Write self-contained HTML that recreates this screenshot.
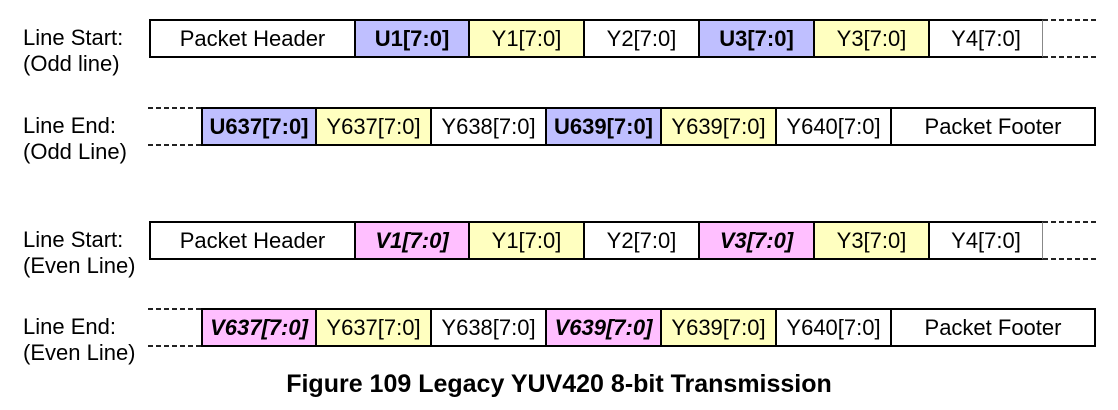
<!DOCTYPE html>
<html><head><style>
body{margin:0;width:1118px;height:410px;background:#fff;position:relative;overflow:hidden;font-family:"Liberation Sans",Arial,sans-serif;color:#000}
.l{position:absolute;left:23px;font-size:22px;line-height:26px}
.c{position:absolute;box-sizing:border-box;border:2px solid #000;border-right:none;font-size:22px;display:flex;align-items:center;justify-content:center;white-space:nowrap}
.last{border-right:2px solid #000}
.u{background:#bfbfff;font-weight:bold}
.v{background:#ffbfff;font-weight:bold;font-style:italic}
.y{background:#ffffc0}
.w{background:#fff}
.d{position:absolute;height:2px;background:repeating-linear-gradient(90deg,#222 0 5px,transparent 5px 8px)}
.cap{position:absolute;left:0;width:1118px;top:369px;text-align:center;font-weight:bold;font-size:25px;line-height:30px}
</style></head><body>
<div class="l" style="top:25px">Line Start:<br>(Odd line)</div>
<div class="l" style="top:113px">Line End:<br>(Odd Line)</div>
<div class="l" style="top:227px">Line Start:<br>(Even Line)</div>
<div class="l" style="top:314px">Line End:<br>(Even Line)</div>

<div class="c w" style="left:149px;top:19px;width:205px;height:39px">Packet Header</div>
<div class="c u" style="left:354px;top:19px;width:114px;height:39px">U1[7:0]</div>
<div class="c y" style="left:468px;top:19px;width:115px;height:39px">Y1[7:0]</div>
<div class="c w" style="left:583px;top:19px;width:115px;height:39px">Y2[7:0]</div>
<div class="c u" style="left:698px;top:19px;width:115px;height:39px">U3[7:0]</div>
<div class="c y" style="left:813px;top:19px;width:115px;height:39px">Y3[7:0]</div>
<div class="c w" style="left:928px;top:19px;width:115px;height:39px;border-right:1px solid #888">Y4[7:0]</div>
<div class="d" style="left:1043px;top:19px;width:53px"></div>
<div class="d" style="left:1043px;top:56px;width:53px"></div>

<div class="d" style="left:148px;top:107px;width:53px"></div>
<div class="d" style="left:148px;top:144px;width:53px"></div>
<div class="c u" style="left:201px;top:107px;width:114px;height:39px">U637[7:0]</div>
<div class="c y" style="left:315px;top:107px;width:115px;height:39px">Y637[7:0]</div>
<div class="c w" style="left:430px;top:107px;width:115px;height:39px">Y638[7:0]</div>
<div class="c u" style="left:545px;top:107px;width:115px;height:39px">U639[7:0]</div>
<div class="c y" style="left:660px;top:107px;width:115px;height:39px">Y639[7:0]</div>
<div class="c w" style="left:775px;top:107px;width:115px;height:39px">Y640[7:0]</div>
<div class="c w last" style="left:890px;top:107px;width:206px;height:39px">Packet Footer</div>

<div class="c w" style="left:149px;top:221px;width:205px;height:39px">Packet Header</div>
<div class="c v" style="left:354px;top:221px;width:114px;height:39px">V1[7:0]</div>
<div class="c y" style="left:468px;top:221px;width:115px;height:39px">Y1[7:0]</div>
<div class="c w" style="left:583px;top:221px;width:115px;height:39px">Y2[7:0]</div>
<div class="c v" style="left:698px;top:221px;width:115px;height:39px">V3[7:0]</div>
<div class="c y" style="left:813px;top:221px;width:115px;height:39px">Y3[7:0]</div>
<div class="c w" style="left:928px;top:221px;width:115px;height:39px;border-right:1px solid #888">Y4[7:0]</div>
<div class="d" style="left:1043px;top:221px;width:53px"></div>
<div class="d" style="left:1043px;top:258px;width:53px"></div>

<div class="d" style="left:148px;top:308px;width:53px"></div>
<div class="d" style="left:148px;top:345px;width:53px"></div>
<div class="c v" style="left:201px;top:308px;width:114px;height:39px">V637[7:0]</div>
<div class="c y" style="left:315px;top:308px;width:115px;height:39px">Y637[7:0]</div>
<div class="c w" style="left:430px;top:308px;width:115px;height:39px">Y638[7:0]</div>
<div class="c v" style="left:545px;top:308px;width:115px;height:39px">V639[7:0]</div>
<div class="c y" style="left:660px;top:308px;width:115px;height:39px">Y639[7:0]</div>
<div class="c w" style="left:775px;top:308px;width:115px;height:39px">Y640[7:0]</div>
<div class="c w last" style="left:890px;top:308px;width:206px;height:39px">Packet Footer</div>

<div class="cap">Figure 109 Legacy YUV420 8-bit Transmission</div>
</body></html>
